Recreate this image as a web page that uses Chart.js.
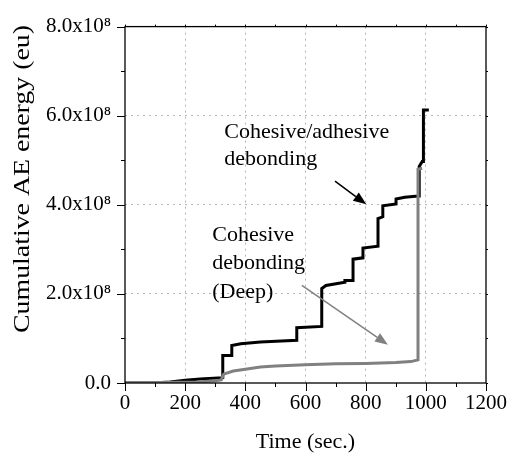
<!DOCTYPE html>
<html>
<head>
<meta charset="utf-8">
<script src="https://cdn.jsdelivr.net/npm/chart.js@4.4.0/dist/chart.umd.min.js"></script>
<style>
  html, body { margin: 0; padding: 0; background: #fff; }
</style>
</head>
<body>
<canvas id="aeChart" width="515" height="459"></canvas>
<script>
// Datos (tiempo en s, energía en unidades de 10^8 eu)
const timeAdhesive   = [0, 90, 150, 200, 250, 325, 325, 355, 355, 385, 450, 520, 571, 571, 654, 654, 668, 731, 731, 758, 758, 791, 791, 841, 841, 857, 857, 901, 901, 930, 975, 978, 978, 988, 992, 992, 1010];
const energyAdhesive = [0, 0, 0.02, 0.06, 0.09, 0.12, 0.62, 0.62, 0.84, 0.88, 0.92, 0.94, 0.96, 1.24, 1.27, 2.12, 2.19, 2.26, 2.30, 2.30, 2.78, 2.81, 3.03, 3.07, 3.69, 3.73, 3.98, 4.02, 4.13, 4.17, 4.20, 4.20, 4.86, 4.97, 4.97, 6.13, 6.13];

const timeDeep   = [0, 240, 300, 320, 328, 360, 400, 450, 500, 600, 700, 800, 900, 950, 974, 974, 988];
const energyDeep = [0, 0.02, 0.05, 0.07, 0.20, 0.27, 0.31, 0.36, 0.38, 0.41, 0.43, 0.44, 0.46, 0.48, 0.52, 4.80, 4.82];

// Etiquetas de los ejes
const xTickLabels = [0, 200, 400, 600, 800, 1000, 1200];
const yTickLabels = [0, 2, 4, 6, 8];
const yAxisTitle = 'Cumulative AE energy (eu)';

// Textos de las anotaciones
const textAdhesive = ['Cohesive/adhesive', 'debonding'];
const textDeep = ['Cohesive', 'debonding', '(Deep)'];

const FONT = "'Liberation Serif', 'Times New Roman', serif";

function toPoints(xs, ys) {
  return xs.map((t, i) => ({ x: t, y: ys[i] }));
}

// --- Marco, marcas de los ejes, título Y y anotaciones ---
const framePlugin = {
  id: 'frame',
  afterDatasetsDraw(chart) {
    const { ctx, scales: { x, y } } = chart;
    ctx.save();
    ctx.fillStyle = '#000';
    ctx.font = `22px ${FONT}`;
    ctx.textAlign = 'left';
    ctx.textBaseline = 'alphabetic';
    textAdhesive.forEach((line, i) => {
      ctx.fillText(line, x.getPixelForValue(330), y.getPixelForValue(5.49 - i * 0.6));
    });
    textDeep.forEach((line, i) => {
      ctx.fillText(line, x.getPixelForValue(290), y.getPixelForValue(3.19 - i * 0.64));
    });
    drawArrow(ctx, x.getPixelForValue(698), y.getPixelForValue(4.53), x.getPixelForValue(802), y.getPixelForValue(4.01), '#000');
    drawArrow(ctx, x.getPixelForValue(588), y.getPixelForValue(2.19), x.getPixelForValue(874), y.getPixelForValue(0.86), '#808080');
    ctx.restore();
  },
  afterDraw(chart) {
    const { ctx, chartArea: a, scales: { x, y } } = chart;
    ctx.save();
    ctx.strokeStyle = '#000';
    ctx.lineWidth = 1.3;
    ctx.strokeRect(a.left, a.top, a.right - a.left, a.bottom - a.top);
    ctx.lineWidth = 1;
    ctx.beginPath();
    x.ticks.forEach(t => {
      const px = Math.round(x.getPixelForValue(t.value)) + 0.5;
      const major = t.value % 200 === 0;
      ctx.moveTo(px, a.bottom); ctx.lineTo(px, a.bottom + (major ? 8 : 4));
      ctx.moveTo(px, a.top); ctx.lineTo(px, a.top - 2);
    });
    y.ticks.forEach(t => {
      const py = Math.round(y.getPixelForValue(t.value)) + 0.5;
      const major = t.value % 2 === 0;
      ctx.moveTo(a.left, py); ctx.lineTo(a.left - (major ? 8 : 4), py);
      ctx.moveTo(a.right, py); ctx.lineTo(a.right + 2, py);
    });
    ctx.stroke();

    // Título del eje Y (estirado a lo largo, como en la figura original)
    ctx.font = `24px ${FONT}`;
    ctx.fillStyle = '#000';
    ctx.textAlign = 'center';
    ctx.textBaseline = 'middle';
    const w = ctx.measureText(yAxisTitle).width;
    ctx.translate(23, 179);
    ctx.rotate(-Math.PI / 2);
    ctx.scale(308 / w, 1);
    ctx.fillText(yAxisTitle, 0, 0);
    ctx.restore();
  }
};

function drawArrow(ctx, x1, y1, x2, y2, color) {
  const ang = Math.atan2(y2 - y1, x2 - x1);
  const len = 13, half = 5;
  const bx = x2 - len * Math.cos(ang), by = y2 - len * Math.sin(ang);
  ctx.strokeStyle = color;
  ctx.fillStyle = color;
  ctx.lineWidth = 1.5;
  ctx.beginPath();
  ctx.moveTo(x1, y1);
  ctx.lineTo(bx, by);
  ctx.stroke();
  ctx.beginPath();
  ctx.moveTo(x2, y2);
  ctx.lineTo(bx + half * Math.sin(ang), by - half * Math.cos(ang));
  ctx.lineTo(bx - half * Math.sin(ang), by + half * Math.cos(ang));
  ctx.closePath();
  ctx.fill();
}

const gridColor = (ctx, maxVal, majorStep) => {
  const v = ctx.tick ? ctx.tick.value : null;
  if (v === null || v <= 0 || v >= maxVal || v % majorStep !== 0) return 'rgba(0,0,0,0)';
  return '#b4b4b4';
};

new Chart(document.getElementById('aeChart'), {
  type: 'scatter',
  data: {
    datasets: [
      {
        label: 'Cohesive debonding (Deep)',
        data: toPoints(timeDeep, energyDeep),
        showLine: true,
        borderColor: '#808080',
        borderWidth: 3,
        pointRadius: 0,
        tension: 0
      },
      {
        label: 'Cohesive/adhesive debonding',
        data: toPoints(timeAdhesive, energyAdhesive),
        showLine: true,
        borderColor: '#000',
        borderWidth: 3,
        pointRadius: 0,
        tension: 0
      }
    ]
  },
  options: {
    responsive: false,
    animation: false,
    layout: { padding: { left: 0, right: 26, top: 19, bottom: 0 } },
    plugins: {
      legend: { display: false },
      tooltip: { enabled: false }
    },
    scales: {
      x: {
        type: 'linear',
        min: 0,
        max: 1200,
        afterFit: s => { s.height = 76; },
        border: { display: false, dash: [2, 4] },
        grid: { drawTicks: false, lineWidth: 1, color: c => gridColor(c, 1200, 200) },
        ticks: {
          stepSize: 100,
          autoSkip: false,
          maxRotation: 0,
          padding: 8,
          color: '#000',
          font: { family: FONT, size: 21 },
          callback: v => xTickLabels.includes(v) ? String(v) : ''
        },
        title: {
          display: true,
          text: 'Time (sec.)',
          color: '#000',
          font: { family: FONT, size: 22 },
          padding: { top: 2 }
        }
      },
      y: {
        type: 'linear',
        min: 0,
        max: 8,
        afterFit: s => { s.width = 125; },
        border: { display: false, dash: [2, 4] },
        grid: { drawTicks: false, lineWidth: 1, color: c => gridColor(c, 8, 2) },
        ticks: {
          stepSize: 1,
          autoSkip: false,
          padding: 14,
          color: '#000',
          font: { family: FONT, size: 21 },
          callback: v => yTickLabels.includes(v) ? (v === 0 ? '0.0' : v.toFixed(1) + 'x10\u2078') : ''
        },
        title: { display: false }
      }
    }
  },
  plugins: [framePlugin]
});
</script>
</body>
</html>
